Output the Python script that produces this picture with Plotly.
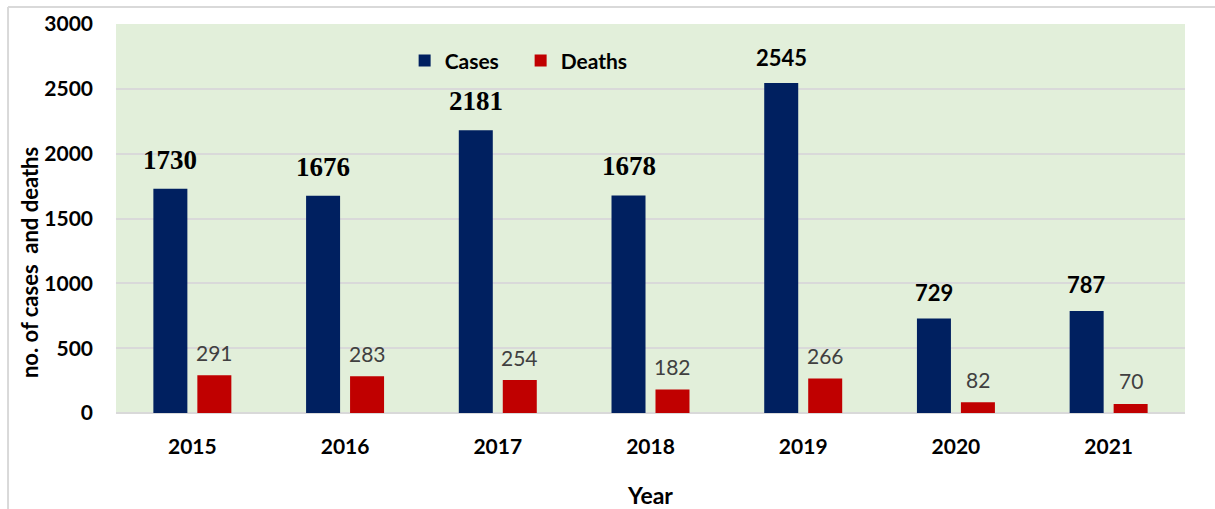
import plotly.graph_objects as go

years = ["2015", "2016", "2017", "2018", "2019", "2020", "2021"]
cases = [1730, 1676, 2181, 1678, 2545, 729, 787]
deaths = [291, 283, 254, 182, 266, 82, 70]

# label styles for the case counts (serif for some years, sans for others)
case_label_serif = [True, True, True, True, False, False, False]

SANS = "Lato, 'Open Sans', sans-serif"
SERIF = "'Liberation Serif', 'Times New Roman', serif"

fig = go.Figure()
fig.add_trace(go.Bar(x=years, y=cases, name="Cases", marker_color="#002060",
                     marker_line_width=0))
fig.add_trace(go.Bar(x=years, y=deaths, name="Deaths", marker_color="#C00000",
                     marker_line_width=0))

# value labels; x given as category index so numeric-looking years are not
# read as positions on the category axis
annotations = []
for i, (v, serif) in enumerate(zip(cases, case_label_serif)):
    annotations.append(dict(
        x=i, y=v, xref="x", yref="y", text=str(v), showarrow=False,
        xshift=-22, yshift=29 if serif else 26, yanchor="middle",
        font=dict(family=SERIF if serif else SANS, size=27 if serif else 22,
                  color="#000000", weight="bold")))
for i, v in enumerate(deaths):
    annotations.append(dict(
        x=i, y=v, xref="x", yref="y", text=str(v), showarrow=False,
        xshift=22, yshift=23, yanchor="middle",
        font=dict(family=SANS, size=21, color="#404040")))

# y-axis title placed as rotated text
annotations.append(dict(
    x=-0.0814, y=0.388, xref="paper", yref="paper", text="no. of cases  and deaths",
    textangle=-90, showarrow=False, xanchor="center", yanchor="middle",
    font=dict(family=SANS, size=22, color="#000000", weight="bold")))

fig.update_layout(
    width=1215, height=509,
    margin=dict(l=116, r=30, t=24, b=96),
    paper_bgcolor="#FFFFFF",
    plot_bgcolor="#E2EFDA",
    barmode="group",
    bargap=0.424,
    bargroupgap=0.227,
    font=dict(family=SANS, color="#000000"),
    legend=dict(orientation="h", x=0.27, y=0.905, xanchor="left", yanchor="middle",
                bgcolor="rgba(0,0,0,0)", font=dict(size=21, weight="bold"),
                traceorder="normal", entrywidth=71),
    annotations=annotations,
    xaxis=dict(type="category", range=[-0.5, len(years) - 0.5], automargin=False,
               tickfont=dict(size=21, weight="bold"), showgrid=False,
               ticks="", showline=False, ticklabelstandoff=19,
               title=dict(text="Year", font=dict(size=23, weight="bold"), standoff=30)),
    yaxis=dict(range=[0, 3000], dtick=500, tickfont=dict(size=21, weight="bold"),
               automargin=False,
               gridcolor="#D9D9D9", gridwidth=2, zeroline=True, zerolinecolor="#D9D9D9",
               zerolinewidth=2, ticks="", ticklabelstandoff=22),
    shapes=[
        dict(type="line", xref="paper", yref="paper", x0=-0.101, x1=-0.101,
             y0=1.044, y1=-0.3, line=dict(color="#D9D9D9", width=2)),
        dict(type="line", xref="paper", yref="paper", x0=-0.101, x1=1.05,
             y0=1.044, y1=1.044, line=dict(color="#D9D9D9", width=2)),
    ],
)

fig.write_html("out.html")
